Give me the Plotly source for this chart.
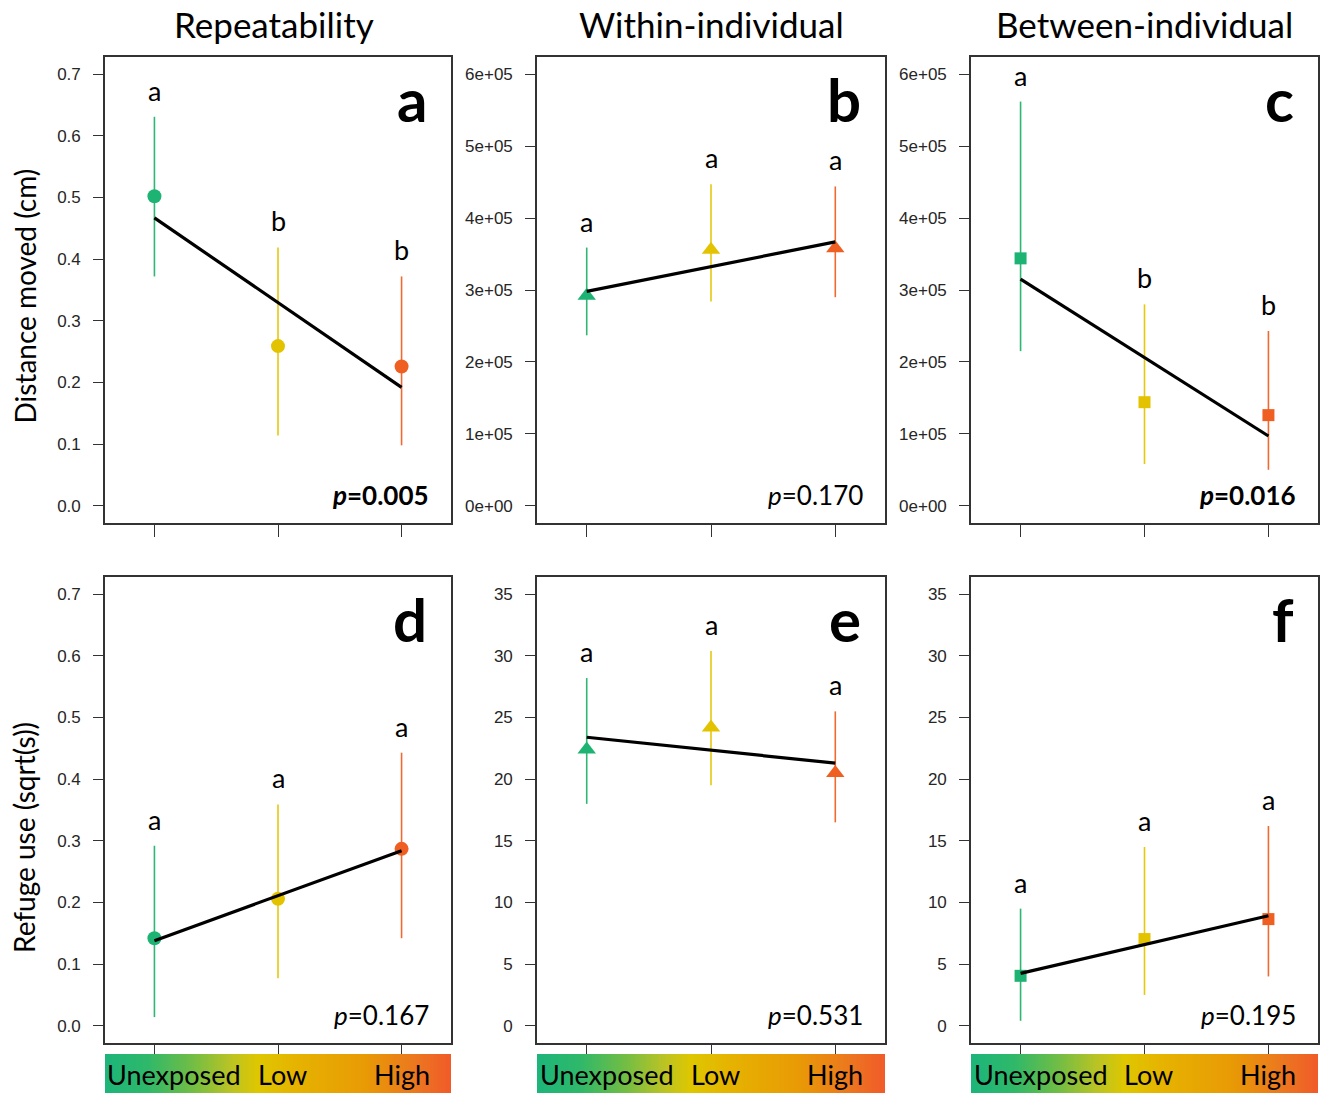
import numpy as np
import plotly.graph_objects as go

# ---------------- data ----------------
groups = ["Unexposed", "Low", "High"]
x_pos = [1, 2, 3]
col_titles = ["Repeatability", "Within-individual", "Between-individual"]
row_titles = ["Distance moved (cm)", "Refuge use (sqrt(s))"]
panel_letters = ["a", "b", "c", "d", "e", "f"]

# panel a: repeatability, distance moved
a_mean = [0.502, 0.259, 0.226]
a_lo = [0.372, 0.114, 0.098]
a_hi = [0.631, 0.419, 0.372]
a_fit = [0.467, 0.192]
a_sig = ["a", "b", "b"]
a_p = "0.005"
# panel b: within-individual, distance moved
b_mean = [2.92e5, 3.56e5, 3.58e5]
b_lo = [2.37e5, 2.84e5, 2.90e5]
b_hi = [3.59e5, 4.47e5, 4.44e5]
b_fit = [2.98e5, 3.67e5]
b_sig = ["a", "a", "a"]
b_p = "0.170"
# panel c: between-individual, distance moved
c_mean = [3.44e5, 1.44e5, 1.26e5]
c_lo = [2.15e5, 0.58e5, 0.50e5]
c_hi = [5.62e5, 2.80e5, 2.43e5]
c_fit = [3.15e5, 0.97e5]
c_sig = ["a", "b", "b"]
c_p = "0.016"
# panel d: repeatability, refuge use
d_mean = [0.142, 0.206, 0.287]
d_lo = [0.014, 0.077, 0.142]
d_hi = [0.292, 0.359, 0.443]
d_fit = [0.138, 0.284]
d_sig = ["a", "a", "a"]
d_p = "0.167"
# panel e: within-individual, refuge use
e_mean = [22.4, 24.2, 20.5]
e_lo = [18.0, 19.5, 16.5]
e_hi = [28.2, 30.4, 25.5]
e_fit = [23.4, 21.3]
e_sig = ["a", "a", "a"]
e_p = "0.531"
# panel f: between-individual, refuge use
f_mean = [4.05, 7.03, 8.65]
f_lo = [0.4, 2.5, 4.0]
f_hi = [9.5, 14.5, 16.2]
f_fit = [4.25, 8.92]
f_sig = ["a", "a", "a"]
f_p = "0.195"

p_significant = [True, False, True, False, False, False]

rep_ticks = [0.0, 0.1, 0.2, 0.3, 0.4, 0.5, 0.6, 0.7]
rep_ticktext = ["0.0", "0.1", "0.2", "0.3", "0.4", "0.5", "0.6", "0.7"]
dist_ticks = [0, 1e5, 2e5, 3e5, 4e5, 5e5, 6e5]
dist_ticktext = ["0e+00", "1e+05", "2e+05", "3e+05", "4e+05", "5e+05", "6e+05"]
ref_ticks = [0, 5, 10, 15, 20, 25, 30, 35]
ref_ticktext = ["0", "5", "10", "15", "20", "25", "30", "35"]

# ---------------- style ----------------
W, H = 1322, 1093
FONT = "Lato"
TICKFONT = "Liberation Sans"
group_colors = ["#1DB373", "#E3C300", "#EF5F22"]
err_colors = ["#2DB674", "#E6C810", "#F06A30"]
symbols = ["circle", "triangle-up", "square"]
msizes = [14, 16, 12]

col_px = [(105, 451), (537, 885), (971, 1318)]
row_px = [(57, 523), (577, 1043)]
grad_px = (1054, 1093)


def xd(px):
    return [px[0] / W, px[1] / W]


def yd(px):
    return [1 - px[1] / H, 1 - px[0] / H]


panels = [
    (a_mean, a_lo, a_hi, a_fit, a_sig, a_p, rep_ticks, rep_ticktext, 0.7),
    (b_mean, b_lo, b_hi, b_fit, b_sig, b_p, dist_ticks, dist_ticktext, 6e5),
    (c_mean, c_lo, c_hi, c_fit, c_sig, c_p, dist_ticks, dist_ticktext, 6e5),
    (d_mean, d_lo, d_hi, d_fit, d_sig, d_p, rep_ticks, rep_ticktext, 0.7),
    (e_mean, e_lo, e_hi, e_fit, e_sig, e_p, ref_ticks, ref_ticktext, 35),
    (f_mean, f_lo, f_hi, f_fit, f_sig, f_p, ref_ticks, ref_ticktext, 35),
]

fig = go.Figure()
annotations = []
layout = {}

for i, (mean, lo, hi, fit, sig, pval, tv, tt, ymax) in enumerate(panels):
    r, c = divmod(i, 3)
    n = i + 1
    xa = "x" if n == 1 else f"x{n}"
    ya = "y" if n == 1 else f"y{n}"
    sym = symbols[c]
    ms = msizes[c]
    for g in range(3):
        fig.add_trace(go.Scatter(
            x=[x_pos[g]], y=[mean[g]], xaxis=xa, yaxis=ya, mode="markers",
            marker=dict(symbol=sym, size=ms, color=group_colors[g], line=dict(width=0)),
            error_y=dict(type="data", symmetric=False,
                         array=[hi[g] - mean[g]], arrayminus=[mean[g] - lo[g]],
                         color=err_colors[g], thickness=1.6, width=0),
            showlegend=False, hoverinfo="skip"))
    fig.add_trace(go.Scatter(
        x=[x_pos[0], x_pos[-1]], y=fit, xaxis=xa, yaxis=ya, mode="lines",
        line=dict(color="black", width=3.2), showlegend=False, hoverinfo="skip"))

    pad = ymax * 0.04
    axis_common = dict(showline=True, mirror=True, linecolor="#333333", linewidth=1.6,
                       ticks="outside", tickcolor="#333333", tickwidth=1.3,
                       showgrid=False, zeroline=False)
    layout["xaxis" if n == 1 else f"xaxis{n}"] = dict(
        domain=xd(col_px[c]), range=[0.6, 3.4], anchor=ya,
        tickvals=x_pos, ticklen=12, showticklabels=False, **axis_common)
    layout["yaxis" if n == 1 else f"yaxis{n}"] = dict(
        domain=yd(row_px[r]), range=[-pad, ymax + pad], anchor=xa,
        tickvals=tv, ticktext=tt, ticklen=10, ticklabelstandoff=9,
        tickfont=dict(family=TICKFONT, size=17, color="#262626"), **axis_common)

    # significance letters
    for g in range(3):
        annotations.append(dict(
            x=x_pos[g], y=hi[g], xref=xa, yref=ya, text=sig[g], showarrow=False,
            yanchor="bottom", yshift=8, font=dict(family=FONT, size=27, color="black")))
    # panel letter
    annotations.append(dict(
        x=1 - 22 / 346, y=1 - 4 / 466, xref=f"{xa} domain", yref=f"{ya} domain",
        text=f"<b>{panel_letters[i]}</b>", showarrow=False, xanchor="right", yanchor="top",
        font=dict(family=FONT, size=60, color="black")))
    # p value
    ptxt = f"<i>p</i>={pval}"
    if p_significant[i]:
        ptxt = f"<b>{ptxt}</b>"
    annotations.append(dict(
        x=1 - 20 / 346, y=10 / 466, xref=f"{xa} domain", yref=f"{ya} domain",
        text=ptxt, showarrow=False, xanchor="right", yanchor="bottom",
        font=dict(family=FONT, size=26, color="black")))

# gradient bars under bottom row
grad_scale = [
    [0.0, "#1DB57A"], [0.12, "#2EB86A"], [0.25, "#70BD45"], [0.36, "#B9C325"],
    [0.44, "#DEC700"], [0.55, "#E6B300"], [0.75, "#E89A05"], [0.9, "#EC7620"],
    [1.0, "#F15A29"]]
gx = np.linspace(0.6, 3.4, 300)
for c in range(3):
    n = 7 + c
    fig.add_trace(go.Heatmap(
        x=gx, y=[0, 1], z=[gx, gx], colorscale=grad_scale, showscale=False,
        xaxis=f"x{n}", yaxis=f"y{n}", hoverinfo="skip", zsmooth="best"))
    layout[f"xaxis{n}"] = dict(domain=xd(col_px[c]), range=[0.6, 3.4], anchor=f"y{n}",
                               visible=False, fixedrange=True)
    layout[f"yaxis{n}"] = dict(domain=yd(grad_px), range=[0, 1], anchor=f"x{n}",
                               visible=False, fixedrange=True)
    shifts = [20, 4, 0]
    for g in range(3):
        annotations.append(dict(
            x=x_pos[g], y=0.47, xref=f"x{n}", yref=f"y{n}", text=groups[g],
            showarrow=False, xshift=shifts[g], yanchor="middle",
            font=dict(family=FONT, size=27, color="black")))

# column titles
for c in range(3):
    xa = "x" if c == 0 else f"x{c + 1}"
    annotations.append(dict(
        x=0.5, y=1 - 24 / H, xref=f"{xa} domain", yref="paper", text=col_titles[c],
        showarrow=False, yanchor="middle", xshift=-4 if c == 0 else 0,
        font=dict(family=FONT, size=35, color="black")))

# row titles
for r, (y0, y1) in enumerate([(170, 423), (723, 953)]):
    annotations.append(dict(
        x=24 / W, y=1 - (y0 + y1) / 2 / H, xref="paper", yref="paper", text=row_titles[r],
        showarrow=False, textangle=-90, xanchor="center", yanchor="middle",
        font=dict(family=FONT, size=28, color="black")))

fig.update_layout(
    width=W, height=H, margin=dict(l=0, r=0, t=0, b=0),
    paper_bgcolor="white", plot_bgcolor="white",
    annotations=annotations, **layout)

fig.write_html("out.html", config={"displayModeBar": False},
               post_script="document.body.style.margin='0';document.body.style.overflow='hidden';")
